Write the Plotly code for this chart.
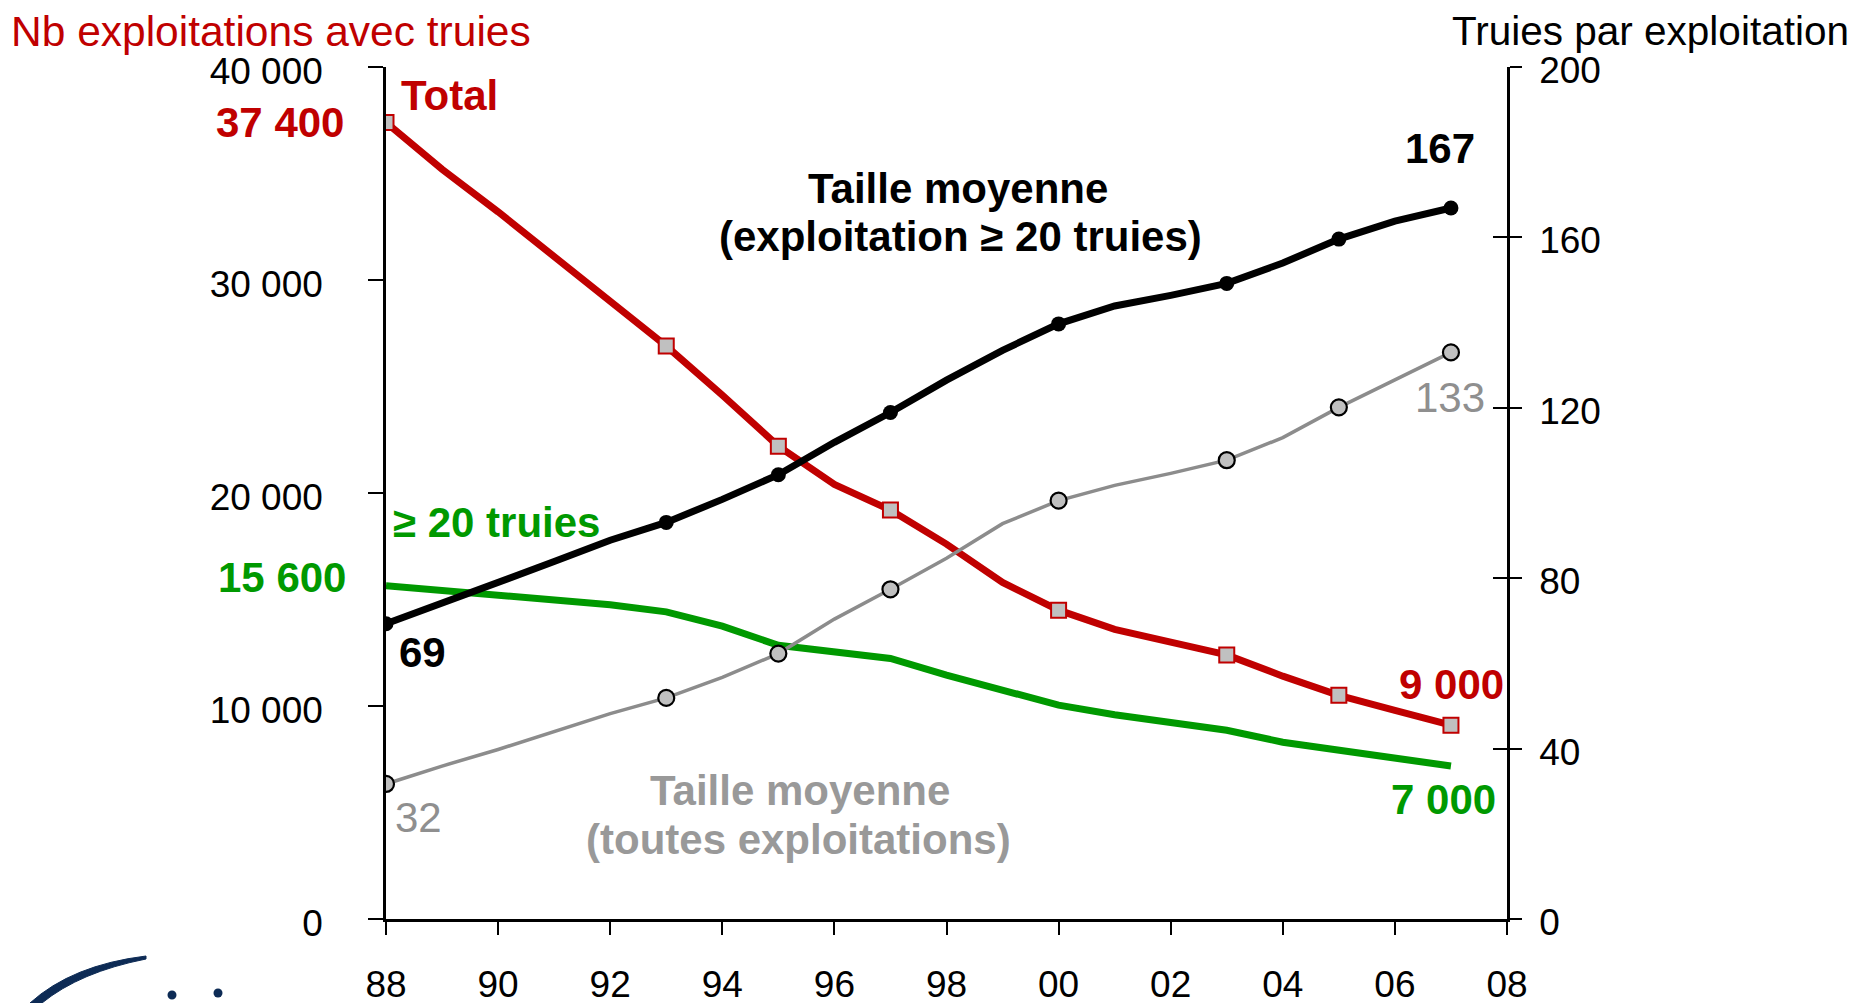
import plotly.graph_objects as go

# ---------------- data ----------------
years = list(range(1988, 2008))
total_farms = [37400, 35200, 33200, 31100, 28900, 26900, 24600, 22200, 20400, 19200,
               17600, 15800, 14500, 13600, 13000, 12400, 11400, 10500, 9800, 9100]
farms_20plus = [15650, 15430, 15150, 14980, 14750, 14420, 13750, 12850, 12570, 12230,
                11450, 10720, 10040, 9590, 9200, 8860, 8300, 7910, 7520, 7180]
size_20plus = [69.3, 74.1, 78.8, 83.9, 88.9, 93.1, 98.5, 104.3, 111.9, 118.9,
               126.5, 133.5, 139.7, 143.9, 146.4, 149.2, 154.0, 159.6, 163.8, 166.9]
size_all = [31.7, 35.9, 39.8, 44.0, 48.2, 51.9, 56.7, 62.3, 70.4, 77.4,
            84.7, 92.8, 98.2, 101.8, 104.6, 107.7, 113.0, 120.1, 126.5, 133.0]
marker_years = [1988, 1993, 1995, 1997, 2000, 2003, 2005, 2007]

x_tickvals = list(range(1988, 2009, 2))
x_ticktext = ["88", "90", "92", "94", "96", "98", "00", "02", "04", "06", "08"]
yl_tickvals = [0, 10000, 20000, 30000, 40000]
yl_ticktext = ["0", "10 000", "20 000", "30 000", "40 000"]
yr_tickvals = [0, 40, 80, 120, 160, 200]
yr_ticktext = ["0", "40", "80", "120", "160", "200"]

RED = "#c00000"
GREEN = "#009900"
GRAY_LINE = "#8c8c8c"
GRAY_TXT = "#8f8f8f"
GRAY_TITLE = "#999999"
MK_FILL = "#c0c0c0"

# page is drawn with the default 8px body margin: compensate
OFF = 8
W, H = 1872 - OFF, 1003 - OFF
# plot area in screen pixels
L, R, T, B = 386, 1507, 67, 919


def px(x):
    return (x - L) / (R - L)


def py(y):
    return (B - y) / (B - T)


def pick(series):
    return [series[years.index(yy)] for yy in marker_years]


fig = go.Figure()

fig.add_trace(go.Scatter(x=years, y=farms_20plus, mode="lines",
                         line=dict(color=GREEN, width=7), yaxis="y", hoverinfo="skip"))
fig.add_trace(go.Scatter(x=years, y=total_farms, mode="lines",
                         line=dict(color=RED, width=7), yaxis="y", hoverinfo="skip"))
fig.add_trace(go.Scatter(x=marker_years, y=pick(total_farms), mode="markers",
                         marker=dict(symbol="square", size=15, color=MK_FILL,
                                     line=dict(color=RED, width=2)),
                         yaxis="y", hoverinfo="skip"))
fig.add_trace(go.Scatter(x=years, y=size_all, mode="lines",
                         line=dict(color=GRAY_LINE, width=3.5), yaxis="y2", hoverinfo="skip"))
fig.add_trace(go.Scatter(x=marker_years, y=pick(size_all), mode="markers",
                         marker=dict(symbol="circle", size=16, color=MK_FILL,
                                     line=dict(color="black", width=2.2)),
                         yaxis="y2", hoverinfo="skip"))
fig.add_trace(go.Scatter(x=years, y=size_20plus, mode="lines",
                         line=dict(color="black", width=7), yaxis="y2", hoverinfo="skip"))
fig.add_trace(go.Scatter(x=marker_years, y=pick(size_20plus), mode="markers",
                         marker=dict(symbol="circle", size=15, color="black"),
                         yaxis="y2", hoverinfo="skip"))
# invisible trace to activate the inside-tick overlay axis (cross ticks on the right)
fig.add_trace(go.Scatter(x=years, y=size_all, mode="lines",
                         line=dict(color="rgba(0,0,0,0)", width=0), yaxis="y3",
                         hoverinfo="skip"))

tick_font = dict(family="Liberation Sans Narrow, Arial Narrow, Liberation Sans", size=37, color="black")

fig.update_layout(
    width=W, height=H,
    margin=dict(l=L - OFF, r=W - (R - OFF), t=T - OFF, b=H - (B - OFF), pad=0, autoexpand=False),
    paper_bgcolor="white", plot_bgcolor="white",
    showlegend=False,
    xaxis=dict(range=[1988, 2008], tickvals=x_tickvals, ticktext=x_ticktext,
               ticks="outside", ticklen=13, tickwidth=2, tickcolor="black",
               showline=True, linecolor="black", linewidth=2.5,
               showgrid=False, zeroline=False, tickfont=tick_font,
               ticklabelstandoff=18, automargin=False),
    yaxis=dict(range=[0, 40000], tickvals=yl_tickvals, ticktext=yl_ticktext,
               ticks="outside", ticklen=15, tickwidth=2, tickcolor="black",
               showline=True, linecolor="black", linewidth=2.5,
               showgrid=False, zeroline=False, tickfont=tick_font,
               ticklabelstandoff=38, ticklabelshift=4, automargin=False),
    yaxis2=dict(range=[0, 200], tickvals=yr_tickvals, ticktext=yr_ticktext,
                overlaying="y", side="right", anchor="x",
                ticks="outside", ticklen=12, tickwidth=2, tickcolor="black",
                showline=True, linecolor="black", linewidth=2.5,
                showgrid=False, zeroline=False, tickfont=tick_font,
                ticklabelstandoff=10, ticklabelshift=3, automargin=False),
    yaxis3=dict(range=[0, 200], tickvals=yr_tickvals,
                overlaying="y", side="right", anchor="x",
                ticks="inside", ticklen=14, tickwidth=2, tickcolor="black",
                showline=False, showgrid=False, zeroline=False,
                showticklabels=False, automargin=False),
)

ann = []


def add_text(text, x, y, color, size=42, bold=False, xanchor="left", yanchor="middle", align="left"):
    fam = "Liberation Sans, Arial"
    t = f"<b>{text}</b>" if bold else text
    ann.append(dict(text=t, x=px(x), y=py(y), xref="paper", yref="paper",
                    xanchor=xanchor, yanchor=yanchor, align=align, showarrow=False,
                    font=dict(family=fam, size=size, color=color)))


add_text("Nb exploitations avec truies", 9, 31, RED, size=42.5)
add_text("Truies par exploitation", 1851, 31, "black", size=40.5, xanchor="right")
add_text("Total", 399, 95, RED, bold=True)
add_text("37 400", 346, 123, RED, bold=True, xanchor="right")
add_text("Taille moyenne", 958, 188, "black", bold=True, xanchor="center")
add_text("(exploitation ≥ 20 truies)", 961, 236, "black", bold=True, xanchor="center")
add_text("167", 1440, 149, "black", bold=True, xanchor="center")
add_text("133", 1450, 397, GRAY_TXT, xanchor="center")
add_text("≥ 20 truies", 391, 522, GREEN, bold=True)
add_text("15 600", 348, 577, GREEN, bold=True, xanchor="right")
add_text("69", 397, 652, "black", bold=True)
add_text("9 000", 1451, 685, RED, bold=True, xanchor="center")
add_text("7 000", 1443, 799, GREEN, bold=True, xanchor="center")
add_text("32", 393, 817, GRAY_TXT)
add_text("Taille moyenne", 800, 790, GRAY_TITLE, bold=True, xanchor="center")
add_text("(toutes exploitations)", 798, 839, GRAY_TITLE, bold=True, xanchor="center")

fig.update_layout(annotations=ann)

# partial logo in the bottom-left corner (arc and dots)
NAVY = "#0d2b55"
arc = (f"M {px(30)},{py(1003)} Q {px(72)},{py(965)} {px(146)},{py(956)} "
       f"L {px(146)},{py(959)} Q {px(80)},{py(972)} {px(42)},{py(1003)} Z")
shapes = [dict(type="path", path=arc, xref="paper", yref="paper",
               fillcolor=NAVY, line=dict(color=NAVY, width=1), layer="above")]
for cx, cy in [(172, 995), (218, 993)]:
    shapes.append(dict(type="circle", xref="paper", yref="paper",
                       x0=px(cx - 4.5), x1=px(cx + 4.5), y0=py(cy + 4.5), y1=py(cy - 4.5),
                       fillcolor=NAVY, line=dict(color=NAVY, width=0)))
fig.update_layout(shapes=shapes)

fig.write_html("out.html")
